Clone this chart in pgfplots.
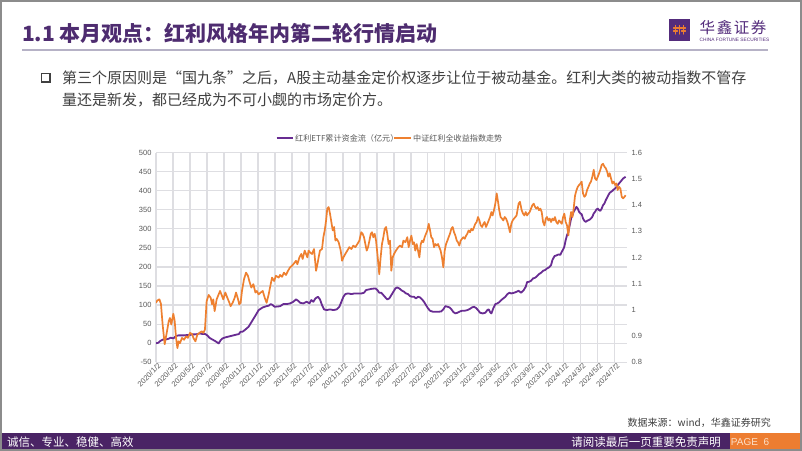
\documentclass[border=0pt]{standalone}
\usepackage{fontspec}
\setmainfont{Noto Sans CJK SC}
\newfontfamily\arial{Liberation Sans}
\usepackage{pgfplots}
\pgfplotsset{compat=1.18}

\definecolor{titlepurple}{RGB}{78,44,112}
\definecolor{logopurple}{RGB}{84,44,124}
\definecolor{linegray}{RGB}{182,178,198}
\definecolor{bodygray}{RGB}{64,64,64}
\definecolor{tickgray}{RGB}{89,89,89}
\definecolor{lightgrid}{RGB}{222,222,226}
\definecolor{framegray}{RGB}{140,140,140}
\definecolor{footpurple}{RGB}{74,36,101}
\definecolor{footorange}{RGB}{237,125,49}
\definecolor{pagepeach}{RGB}{252,224,200}
\definecolor{etfpurple}{RGB}{104,44,146}
\definecolor{idxorange}{RGB}{238,128,48}

\begin{document}
\begin{tikzpicture}
\begin{scope}[x=1bp,y=-1bp]
\path[use as bounding box] (0,0) rectangle (802,451);
\fill[white] (0,0) rectangle (802,451);

% header
\node[anchor=base west, inner sep=0, text=titlepurple,
      font=\fontsize{21bp}{24bp}\selectfont\bfseries] at (22,42) {1.1 本月观点：红利风格年内第二轮行情启动};
\draw[linegray, line width=2bp] (22,50) -- (768,50);
\fill[logopurple] (669,19.5) rectangle (690,41.5);
\draw[footorange, line width=1.1bp, line cap=round]
  (673.5,28) -- (685.5,28)
  (675.5,25.5) -- (675.5,34) (679.5,25.5) -- (679.5,34) (683.5,25.5) -- (683.5,34)
  (673.5,31) -- (677.5,31) (681.5,31) -- (685.5,31);
\node[anchor=base west, inner sep=0, text=logopurple,
      font=\fontsize{15.5bp}{16bp}\selectfont] at (699.5,34) {华\hspace{1.6bp}鑫\hspace{1.6bp}证\hspace{1.6bp}券};
\node[anchor=base west, inner sep=0, text=logopurple,
      font=\arial\fontsize{4.8bp}{5bp}\selectfont] at (699.5,41.5) {CHINA FORTUNE SECURITIES};

% bullet text
\draw[bodygray, line width=1.4bp] (41.5,73.5) rectangle (50,82);
\node[anchor=base west, inner sep=0, text=bodygray,
      font=\fontsize{15bp}{18bp}\selectfont] at (62,83.7) {第三个原因则是“国九条”之后，A股主动基金定价权逐步让位于被动基金。红利大类的被动指数不管存};
\node[anchor=base west, inner sep=0, text=bodygray,
      font=\fontsize{15bp}{18bp}\selectfont] at (62,105.7) {量还是新发，都已经成为不可小觑的市场定价方。};

% legend
\draw[etfpurple, line width=2.2bp] (276.7,138.3) -- (293,138.3);
\node[anchor=west, inner sep=0, text=tickgray, font=\fontsize{8.1bp}{9bp}\selectfont] at (295,138.3) {红利ETF累计资金流（亿元）};
\draw[idxorange, line width=2.2bp] (394,138.3) -- (410.7,138.3);
\node[anchor=west, inner sep=0, text=tickgray, font=\fontsize{8.1bp}{9bp}\selectfont] at (413,138.3) {中证红利全收益指数走势};

% source and footer
\node[anchor=base east, inner sep=0, text=bodygray,
      font=\fontsize{10bp}{12bp}\selectfont] at (771,426.5) {数据来源：wind，华鑫证券研究};
\fill[footpurple] (0,432.7) rectangle (802,451);
\fill[footorange] (730,432.7) rectangle (799.5,451);
\node[anchor=west, inner sep=0, text=white, font=\fontsize{11.5bp}{13bp}\selectfont] at (7,441.8) {诚信、专业、稳健、高效};
\node[anchor=east, inner sep=0, text=white, font=\fontsize{11.5bp}{13bp}\selectfont] at (721,441.8) {请阅读最后一页重要免责声明};
\node[inner sep=0, text=pagepeach, font=\arial\fontsize{10bp}{12bp}\selectfont] at (750,441.8) {PAGE\ \ 6};
\draw[framegray, line width=2bp] (1,1) rectangle (801,450);
\end{scope}

% left axis: cumulative ETF flow
\begin{axis}[
    at={(156bp,-362.3bp)}, anchor=south west,
    scale only axis, width=471bp, height=209.8bp,
    xmin=0, xmax=27.72, ymin=-50, ymax=500,
    enlargelimits=false,
    xtick={0,...,27},
    xticklabels={2020/1/2,2020/3/2,2020/5/2,2020/7/2,2020/9/2,2020/11/2,
                 2021/1/2,2021/3/2,2021/5/2,2021/7/2,2021/9/2,2021/11/2,
                 2022/1/2,2022/3/2,2022/5/2,2022/7/2,2022/9/2,2022/11/2,
                 2023/1/2,2023/3/2,2023/5/2,2023/7/2,2023/9/2,2023/11/2,
                 2024/1/2,2024/3/2,2024/5/2,2024/7/2},
    ytick={-50,0,...,500},
    grid=major,
    grid style={solid, draw=lightgrid, line width=1.25bp},
    axis line style={draw=none},
    major tick length=0pt,
    /pgf/number format/assume math mode=true,
    ticklabel style={font=\arial\fontsize{7.5bp}{9bp}\selectfont, text=tickgray},
    yticklabel style={xshift=-1bp},
    xticklabel style={rotate=45, anchor=north east, inner sep=1bp, xshift=2bp},
]
\addplot[etfpurple, line width=1.8bp, line join=round] coordinates {
(0,0)(0.14,1.3)(0.27,6.6)(0.43,10.1)(0.59,10.1)(0.75,11.8)(0.86,14.5)(1.02,12.7)(1.18,18.8)(1.33,20.6)
(1.49,20.6)(1.65,20.6)(1.81,21.4)(1.96,21.4)(2.12,23.2)(2.28,23.2)(2.43,24.0)(2.59,25.8)(2.75,24.0)(2.90,24.0)
(3.02,20.6)(3.14,14.5)(3.30,10.1)(3.45,6.6)(3.57,3.1)(3.69,-0.4)(3.81,8.3)(3.92,12.7)(4.08,15.3)(4.24,17.1)
(4.39,18.8)(4.55,20.6)(4.71,22.3)(4.87,24.0)(4.98,30.2)(5.10,30.2)(5.22,34.5)(5.34,38.9)(5.45,43.3)(5.57,52.0)
(5.69,60.7)(5.81,69.5)(5.93,78.2)(6.04,86.9)(6.16,90.4)(6.28,93.9)(6.40,95.6)(6.51,97.4)(6.63,98.3)(6.75,102.6)
(6.87,100.0)(6.98,95.6)(7.30,97.0)(7.49,102.6)(7.69,102.6)(7.89,104.4)(8.08,108.7)(8.24,114.9)(8.36,111.4)(8.48,106.1)
(8.67,104.4)(8.87,108.7)(9.03,104.4)(9.14,113.1)(9.26,108.7)(9.38,117.5)(9.53,121.8)(9.65,114.9)(9.77,100.0)(9.89,88.7)
(10.05,86.9)(10.24,88.7)(10.44,86.9)(10.63,88.7)(10.79,95.6)(10.91,108.7)(11.03,121.8)(11.14,128.8)(11.30,130.6)(11.50,128.8)
(11.69,130.6)(11.89,130.6)(12.09,130.6)(12.24,132.3)(12.36,139.3)(12.52,141.0)(12.71,142.8)(12.91,143.7)(13.03,139.3)(13.14,132.3)
(13.26,132.3)(13.38,126.2)(13.50,120.1)(13.61,114.9)(13.73,117.5)(13.85,126.2)(13.97,134.9)(14.09,143.7)(14.20,146.3)(14.32,143.7)
(14.48,137.6)(14.60,134.9)(14.71,130.6)(14.83,128.8)(14.95,123.6)(15.07,121.8)(15.19,121.8)(15.30,117.5)(15.42,121.8)(15.54,120.1)
(15.66,114.9)(15.77,108.7)(15.89,100.0)(16.01,91.3)(16.13,85.2)(16.29,82.6)(16.44,82.6)(16.64,82.6)(16.79,83.4)(16.91,88.7)
(17.03,97.4)(17.15,95.6)(17.27,93.9)(17.39,88.7)(17.50,81.7)(17.62,78.2)(17.74,79.9)(17.85,82.6)(18.01,85.2)(18.17,85.2)
(18.33,86.9)(18.48,90.4)(18.60,93.9)(18.72,95.6)(18.84,92.2)(18.95,86.9)(19.07,79.9)(19.23,78.2)(19.38,79.9)(19.50,86.9)
(19.58,88.7)(19.66,81.7)(19.74,78.2)(19.85,91.3)(19.97,102.6)(20.09,104.4)(20.21,107.9)(20.32,113.1)(20.44,117.5)(20.56,121.8)
(20.68,128.8)(20.80,132.3)(20.91,130.6)(21.07,132.3)(21.22,134.9)(21.34,137.6)(21.48,132.3)(21.64,139.3)(21.76,148.0)(21.84,160.3)
(21.96,161.1)(22.07,163.7)(22.19,169.9)(22.31,171.6)(22.43,176.0)(22.54,181.2)(22.66,184.7)(22.78,189.9)(22.89,191.7)(23.01,196.0)
(23.13,198.7)(23.25,204.8)(23.33,217.9)(23.45,228.4)(23.56,230.1)(23.68,232.7)(23.80,231.9)(23.88,239.7)(23.96,245.8)(24.03,252.8)
(24.11,270.3)(24.19,283.4)(24.27,292.1)(24.35,309.6)(24.43,327.0)(24.51,335.7)(24.58,344.5)(24.66,350.6)(24.74,357.6)(24.82,353.2)
(24.90,344.5)(24.98,340.1)(25.05,338.4)(25.13,327.0)(25.21,320.9)(25.29,318.3)(25.37,320.9)(25.45,322.6)(25.53,324.4)(25.60,327.0)
(25.68,331.4)(25.76,340.1)(25.84,344.5)(25.92,350.6)(26.00,353.2)(26.08,348.8)(26.15,347.1)(26.23,353.2)(26.31,361.9)(26.39,366.3)
(26.47,375.0)(26.55,382.0)(26.62,388.1)(26.70,394.2)(26.78,396.9)(26.86,399.5)(26.94,403.0)(27.02,405.6)(27.10,410.0)(27.17,414.3)
(27.25,418.7)(27.33,423.1)(27.41,427.4)(27.49,431.8)(27.57,434.4)(27.64,436.2)
};
\end{axis}

% right axis: CSI dividend total return index
\begin{axis}[
    at={(156bp,-362.3bp)}, anchor=south west,
    scale only axis, width=471bp, height=209.8bp,
    xmin=0, xmax=27.72, ymin=0.8, ymax=1.6,
    enlargelimits=false,
    axis x line=none,
    axis y line*=right,
    axis line style={draw=none},
    major tick length=0pt,
    ytick={0.8,0.9,1.0,1.1,1.2,1.3,1.4,1.5,1.6},
    yticklabels={0.8,0.9,1,1.1,1.2,1.3,1.4,1.5,1.6},
    yticklabel style={font=\arial\fontsize{7.5bp}{9bp}\selectfont, text=tickgray, xshift=1bp},
]
\addplot[idxorange, line width=1.7bp, line join=round] coordinates {
(0,1.027)(0.08,1.036)(0.2,1.040)(0.29,1.023)(0.39,0.944)(0.51,0.869)(0.63,0.912)(0.75,0.957)(0.82,0.969)(0.90,0.944)
(1.02,0.985)(1.10,0.957)(1.18,0.893)(1.26,0.854)(1.33,0.880)(1.41,0.873)(1.53,0.893)(1.65,0.886)(1.77,0.899)(1.88,0.893)
(2.00,0.912)(2.12,0.908)(2.20,0.893)(2.32,0.880)(2.43,0.905)(2.55,0.912)(2.69,0.918)(2.79,0.912)(2.88,0.925)(2.98,1.033)
(3.10,1.057)(3.22,1.046)(3.30,1.021)(3.37,1.040)(3.45,0.995)(3.57,1.040)(3.65,1.053)(3.77,1.072)(3.85,1.059)(3.96,1.040)
(4.08,1.066)(4.20,1.046)(4.32,1.027)(4.39,1.014)(4.51,1.027)(4.63,1.046)(4.71,1.066)(4.83,1.040)(4.90,1.021)(4.98,1.027)
(5.06,1.072)(5.18,1.117)(5.30,1.142)(5.41,1.130)(5.49,1.110)(5.61,1.085)(5.73,1.098)(5.85,1.066)(5.93,1.072)(6.04,1.059)
(6.16,1.066)(6.28,1.072)(6.40,1.046)(6.51,1.027)(6.63,1.059)(6.75,1.098)(6.83,1.123)(6.95,1.110)(7.06,1.130)(7.22,1.123)
(7.30,1.133)(7.42,1.126)(7.53,1.142)(7.65,1.133)(7.77,1.149)(7.89,1.162)(8.00,1.168)(8.12,1.177)(8.24,1.187)(8.32,1.174)
(8.44,1.200)(8.55,1.213)(8.63,1.194)(8.75,1.226)(8.83,1.213)(8.91,1.200)(8.98,1.226)(9.06,1.219)(9.18,1.213)(9.30,1.232)
(9.42,1.149)(9.50,1.174)(9.57,1.200)(9.65,1.226)(9.77,1.232)(9.85,1.277)(9.93,1.303)(10.01,1.341)(10.08,1.386)(10.16,1.392)
(10.24,1.367)(10.32,1.335)(10.40,1.303)(10.48,1.316)(10.56,1.264)(10.63,1.271)(10.75,1.258)(10.87,1.226)(10.95,1.187)(11.03,1.200)
(11.14,1.213)(11.26,1.226)(11.38,1.239)(11.50,1.232)(11.61,1.245)(11.73,1.239)(11.85,1.251)(11.97,1.264)(12.08,1.296)(12.16,1.290)
(12.24,1.277)(12.32,1.251)(12.40,1.226)(12.48,1.239)(12.56,1.264)(12.64,1.290)(12.71,1.296)(12.79,1.277)(12.87,1.290)(12.95,1.264)
(13.03,1.213)(13.14,1.136)(13.22,1.200)(13.30,1.251)(13.38,1.277)(13.46,1.309)(13.54,1.316)(13.61,1.290)(13.69,1.251)(13.77,1.264)
(13.85,1.149)(13.93,1.200)(14.01,1.213)(14.12,1.226)(14.26,1.239)(14.36,1.245)(14.48,1.239)(14.56,1.264)(14.68,1.258)(14.79,1.277)
(14.87,1.239)(14.95,1.264)(15.03,1.283)(15.11,1.251)(15.18,1.258)(15.26,1.226)(15.34,1.251)(15.42,1.226)(15.50,1.200)(15.58,1.251)
(15.66,1.264)(15.73,1.258)(15.81,1.277)(15.89,1.290)(15.97,1.303)(16.05,1.328)(16.13,1.303)(16.20,1.277)(16.28,1.271)(16.36,1.239)
(16.44,1.251)(16.52,1.245)(16.60,1.251)(16.67,1.239)(16.75,1.226)(16.83,1.200)(16.91,1.162)(16.99,1.226)(17.07,1.251)(17.15,1.264)
(17.22,1.277)(17.30,1.290)(17.38,1.309)(17.46,1.316)(17.54,1.296)(17.62,1.283)(17.70,1.264)(17.77,1.258)(17.85,1.245)(17.93,1.264)
(18.01,1.271)(18.09,1.277)(18.17,1.271)(18.25,1.283)(18.32,1.290)(18.40,1.303)(18.48,1.296)(18.56,1.309)(18.64,1.303)(18.72,1.316)
(18.79,1.328)(18.87,1.335)(18.95,1.354)(19.03,1.341)(19.11,1.322)(19.19,1.316)(19.27,1.328)(19.34,1.335)(19.42,1.316)(19.50,1.328)
(19.58,1.341)(19.66,1.354)(19.74,1.373)(19.81,1.360)(19.89,1.380)(19.97,1.405)(20.05,1.444)(20.13,1.412)(20.20,1.380)(20.28,1.354)
(20.36,1.348)(20.44,1.341)(20.52,1.354)(20.60,1.348)(20.68,1.335)(20.76,1.316)(20.83,1.296)(20.91,1.328)(20.99,1.341)(21.07,1.348)
(21.15,1.354)(21.22,1.360)(21.34,1.405)(21.42,1.412)(21.52,1.380)(21.60,1.367)(21.68,1.360)(21.76,1.373)(21.84,1.360)(21.91,1.367)
(21.99,1.373)(22.07,1.386)(22.15,1.399)(22.23,1.405)(22.31,1.392)(22.39,1.386)(22.46,1.392)(22.54,1.380)(22.62,1.386)(22.70,1.373)
(22.78,1.335)(22.86,1.322)(22.94,1.348)(23.01,1.354)(23.09,1.341)(23.17,1.348)(23.25,1.335)(23.33,1.348)(23.41,1.341)(23.48,1.354)
(23.56,1.335)(23.64,1.328)(23.72,1.341)(23.80,1.335)(23.88,1.328)(23.96,1.354)(24.03,1.367)(24.11,1.335)(24.19,1.322)(24.27,1.284)
(24.35,1.341)(24.43,1.373)(24.51,1.354)(24.58,1.386)(24.66,1.435)(24.74,1.455)(24.82,1.469)(24.90,1.476)(24.98,1.482)(25.05,1.489)
(25.13,1.444)(25.21,1.431)(25.29,1.437)(25.37,1.457)(25.45,1.469)(25.53,1.482)(25.60,1.489)(25.68,1.508)(25.76,1.534)(25.84,1.501)
(25.92,1.495)(26.00,1.508)(26.08,1.521)(26.15,1.534)(26.23,1.553)(26.31,1.557)(26.39,1.546)(26.47,1.540)(26.55,1.527)(26.62,1.508)
(26.70,1.521)(26.78,1.501)(26.86,1.482)(26.94,1.489)(27.02,1.476)(27.10,1.482)(27.17,1.457)(27.25,1.469)(27.33,1.463)(27.41,1.431)
(27.49,1.425)(27.57,1.431)(27.64,1.437)
};
\end{axis}
\end{tikzpicture}
\end{document}
